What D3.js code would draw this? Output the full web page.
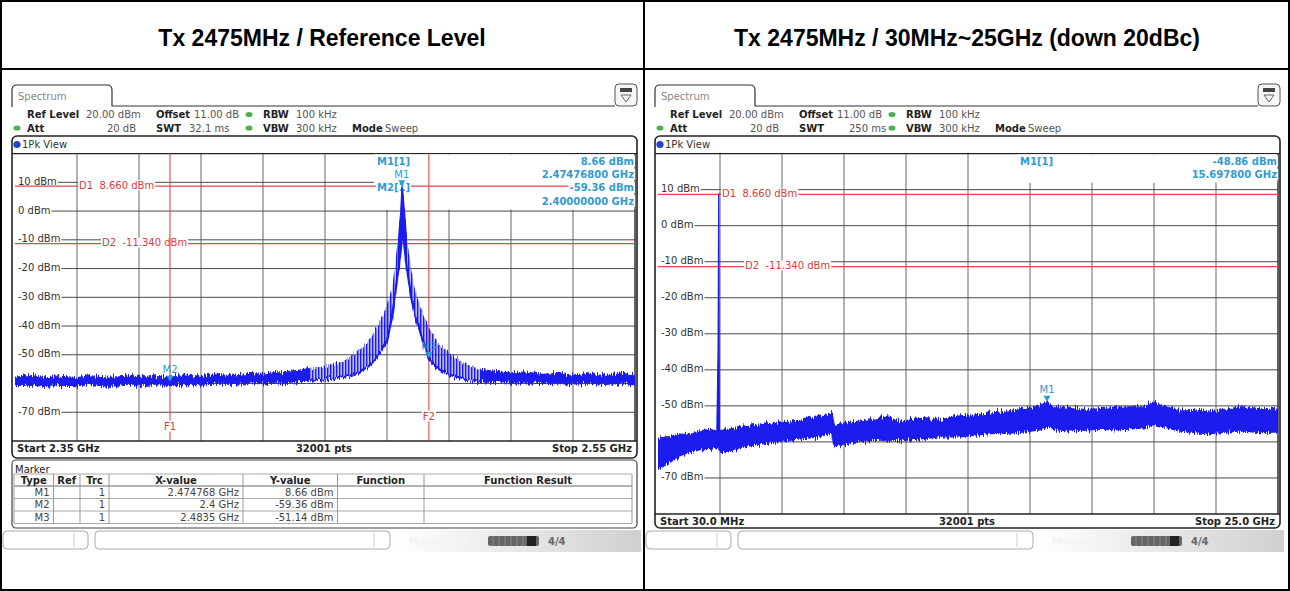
<!DOCTYPE html>
<html>
<head>
<meta charset="utf-8">
<script src="https://cdn.jsdelivr.net/npm/d3@7"></script>
<style>
  body { margin: 0; background: #fff; }
  svg text { font-family: "DejaVu Sans", Verdana, sans-serif; font-size: 10px; white-space: pre; }
  svg text.title { font-family: "Liberation Sans", Arial, sans-serif; font-weight: bold; font-size: 23px; }
</style>
</head>
<body>
<svg id="chart" width="1290" height="591"></svg>
<script>
// two R&S spectrum screenshots
const TITLES = ["Tx 2475MHz / Reference Level", "Tx 2475MHz / 30MHz~25GHz (down 20dBc)"];

const REF_LEVEL = 20;      // dBm at top of grid
const BOTTOM_LEVEL = -80;  // dBm at bottom of grid
const Y_TICKS = [10, 0, -10, -20, -30, -40, -50, -60, -70];
const D_VALUES = [8.66, -11.34];
const D_LABELS = ["D1  8.660 dBm", "D2  -11.340 dBm"];

// left screenshot: 2.35 - 2.55 GHz
const L_HEADER = [["Ref Level", "20.00 dBm"], ["Offset", "11.00 dB"], ["RBW", "100 kHz"],
  ["Att", "20 dB"], ["SWT", "32.1 ms"], ["VBW", "300 kHz"], ["Mode", "Sweep"]];
const L_RANGE = [2.35, 2.55];
const L_FOOTER = ["Start 2.35 GHz", "32001 pts", "Stop 2.55 GHz"];
const L_FREQ = [2.350, 2.355, 2.360, 2.365, 2.370, 2.375, 2.380, 2.385, 2.390, 2.395, 2.400,
  2.405, 2.410, 2.415, 2.420, 2.425, 2.430, 2.435, 2.440, 2.445, 2.450,
  2.455, 2.458, 2.461, 2.464, 2.466, 2.468, 2.470,
  2.4715, 2.4725, 2.4732, 2.4738, 2.4744, 2.4748, 2.4752, 2.4758, 2.4764, 2.4770, 2.4778,
  2.479, 2.481, 2.4835, 2.486, 2.489, 2.492, 2.496, 2.500,
  2.505, 2.510, 2.515, 2.520, 2.525, 2.530, 2.535, 2.540, 2.545, 2.550];
const L_HI = [-57.8, -57.2, -58.0, -57.5, -57.9, -57.3, -57.8, -57.6, -57.1, -57.7, -57.4,
  -57.0, -57.5, -56.9, -57.2, -56.5, -56.8, -56.0, -55.6, -54.8, -54.0,
  -52.5, -51.0, -48.5, -45.5, -42.0, -38.0, -33.0,
  -27.0, -20.0, -13.0, -8.0, 0.0, 8.66, 6.0, -2.0, -10.0, -14.0, -20.0,
  -27.0, -34.0, -40.5, -45.0, -48.5, -51.0, -53.5, -55.0,
  -55.8, -56.3, -56.0, -56.8, -56.5, -57.0, -56.6, -57.2, -56.4, -57.0];
const L_LO = [-60.6, -60.3, -60.8, -60.4, -60.6, -60.2, -60.7, -60.5, -60.3, -60.4, -60.2,
  -60.1, -60.3, -60.0, -60.1, -59.8, -59.9, -59.6, -59.3, -59.0, -58.6,
  -58.0, -57.3, -56.0, -54.0, -52.0, -49.0, -45.0,
  -38.0, -30.0, -24.0, -20.0, -14.0, -6.0, -8.0, -14.0, -20.0, -24.0, -30.0,
  -36.0, -43.0, -51.5, -54.5, -56.5, -57.5, -58.5, -59.2,
  -59.4, -59.6, -59.5, -59.8, -59.9, -60.0, -59.8, -60.1, -59.9, -60.2];
// stretches of the trace that look like a comb of lines instead of a solid band
const L_COMB = [[2.445, 2.4735], [2.4765, 2.500]];
const L_MARKERS = [["M1", 2.474768, 8.66], ["M2", 2.4, -59.36], ["M3", 2.4835, -51.14]];
const L_FLINES = [["F1", 2.4], ["F2", 2.4835]];
const L_INFO = [["M1[1]", "8.66 dBm", "2.47476800 GHz"], ["M2[1]", "-59.36 dBm", "2.40000000 GHz"]];

const TABLE_COLS = ["Type", "Ref", "Trc", "X-value", "Y-value", "Function", "Function Result"];
const TABLE_ROWS = [
  ["M1", "", "1", "2.474768 GHz", "8.66 dBm", "", ""],
  ["M2", "", "1", "2.4 GHz", "-59.36 dBm", "", ""],
  ["M3", "", "1", "2.4835 GHz", "-51.14 dBm", "", ""],
];

// right screenshot: 30 MHz - 25 GHz
const R_HEADER = [["Ref Level", "20.00 dBm"], ["Offset", "11.00 dB"], ["RBW", "100 kHz"],
  ["Att", "20 dB"], ["SWT", "250 ms"], ["VBW", "300 kHz"], ["Mode", "Sweep"]];
const R_RANGE = [0.03, 25.0];
const R_FOOTER = ["Start 30.0 MHz", "32001 pts", "Stop 25.0 GHz"];
const R_FREQ = [0.03, 0.5, 0.9, 1.3, 1.7, 2.1, 2.40, 2.45, 2.475, 2.50, 2.6,
  3.3, 4.1, 4.9, 5.75, 6.5, 6.95, 7.05, 7.12,
  7.8, 8.6, 9.2, 9.8, 10.6, 11.4, 12.2, 12.8, 13.4, 14.0, 14.6,
  15.1, 15.4, 15.7, 16.0, 16.6, 17.2, 17.8, 18.4, 19.0, 19.6,
  20.0, 20.3, 21.0, 21.6, 22.2, 22.8, 23.5, 24.3, 25.0];
const R_HI = [-59.0, -58.5, -57.8, -58.0, -57.0, -56.5, -57.0, -35.0, 8.66, -56.5, -56.8,
  -56.0, -55.3, -54.5, -54.0, -53.0, -52.3, -51.8, -55.5,
  -54.5, -53.9, -53.2, -54.2, -53.5, -53.8, -52.8, -52.5, -52.0, -51.6, -50.8,
  -50.6, -50.0, -48.86, -50.3, -50.4, -51.0, -50.8, -50.5, -50.3, -50.2,
  -48.9, -50.0, -51.2, -51.0, -51.7, -51.0, -50.3, -50.8, -50.6];
const R_LO = [-67.5, -65.5, -64.0, -63.0, -62.0, -62.0, -61.5, -61.0, -60.0, -62.5, -62.8,
  -61.5, -60.5, -59.8, -59.0, -58.5, -57.5, -57.5, -61.0,
  -60.0, -59.5, -59.3, -59.5, -59.0, -58.5, -58.5, -58.0, -57.6, -57.5, -57.2,
  -56.8, -56.5, -55.8, -56.5, -56.8, -56.6, -56.3, -56.5, -56.3, -56.0,
  -55.0, -55.5, -56.8, -57.2, -57.6, -57.2, -56.8, -57.3, -57.1];
const R_MARKERS = [["M1", 15.6978, -48.86]];
const R_INFO = [["M1[1]", "-48.86 dBm", "15.697800 GHz"]];

// ---- drawing ----
const TRACE = "#1a1aee";
const RED = "#e04848";
const MK = "#2f9bd3";

const svg = d3.select("#chart");
const defs = svg.append("defs");

const pat = defs.append("pattern").attr("id", "comb")
  .attr("patternUnits", "userSpaceOnUse").attr("width", 3).attr("height", 8);
pat.append("rect").attr("width", 3).attr("height", 8).attr("fill", "rgba(70,70,235,0.35)");
pat.append("rect").attr("width", 1.4).attr("height", 8).attr("fill", TRACE);

// vertical jitter so the straight envelope segments read like a noisy trace
const jag = defs.append("filter").attr("id", "jag").attr("filterUnits", "userSpaceOnUse")
  .attr("x", 0).attr("y", 0).attr("width", 660).attr("height", 591);
jag.append("feTurbulence").attr("type", "fractalNoise").attr("baseFrequency", "0.9 0.03")
  .attr("numOctaves", 2).attr("seed", 4).attr("result", "t");
jag.append("feColorMatrix").attr("in", "t").attr("type", "matrix")
  .attr("values", "0 0 0 0 0.5  0 1 0 0 0  0 0 0 0 0  0 0 0 0 1").attr("result", "m");
jag.append("feDisplacementMap").attr("in", "SourceGraphic").attr("in2", "m")
  .attr("scale", 10).attr("xChannelSelector", "R").attr("yChannelSelector", "G");

const grad = defs.append("linearGradient").attr("id", "status");
grad.append("stop").attr("offset", "0%").attr("stop-color", "#ffffff");
grad.append("stop").attr("offset", "100%").attr("stop-color", "#d0d0d0");

// outer table
svg.append("rect").attr("x", 1).attr("y", 1).attr("width", 1288).attr("height", 589)
  .attr("fill", "none").attr("stroke", "#000").attr("stroke-width", 2);
svg.append("line").attr("x1", 0).attr("x2", 1290).attr("y1", 69).attr("y2", 69)
  .attr("stroke", "#000").attr("stroke-width", 2);
svg.append("line").attr("x1", 644).attr("x2", 644).attr("y1", 0).attr("y2", 591)
  .attr("stroke", "#000").attr("stroke-width", 2);
TITLES.forEach((t, i) => {
  svg.append("text").attr("class", "title").attr("x", 322 + i * 645).attr("y", 38)
    .attr("text-anchor", "middle").attr("dominant-baseline", "central").text(t);
});

function textBg(g, x, y, str, anchor, fill, opts = {}) {
  const bg = g.append("rect").attr("fill", "#fff");
  const t = g.append("text").attr("x", x).attr("y", y).attr("text-anchor", anchor || "start")
    .attr("dominant-baseline", "central").attr("fill", fill).text(str);
  if (opts.bold) t.attr("font-weight", "bold");
  const b = t.node().getBBox();
  const pad = opts.pad == null ? 1 : opts.pad;
  const x0 = opts.from != null ? opts.from : b.x - pad;
  bg.attr("x", x0).attr("y", y - (opts.h || 8) / 2)
    .attr("width", b.x + b.width + pad - x0).attr("height", opts.h || 8);
  return t;
}

function drawPanel(ox, cfg) {
  const g = svg.append("g").attr("transform", `translate(${ox},0)`);
  const PL = 15, PR = 635, PT = 153.6, PB = cfg.plotBottom;

  // tab + icon
  g.append("path").attr("d", "M12,107 V90 Q12,85 17,85 H107 Q112,85 112,90 V106 H615")
    .attr("fill", "none").attr("stroke", "#333").attr("stroke-width", 1.2);
  g.append("text").attr("x", 18).attr("y", 96).attr("dominant-baseline", "central")
    .attr("font-size", 13).attr("fill", "#888").text("Spectrum");
  g.append("rect").attr("x", 615).attr("y", 84).attr("width", 22).attr("height", 22).attr("rx", 4)
    .attr("fill", "#f6f6f6").attr("stroke", "#555");
  g.append("rect").attr("x", 620).attr("y", 88).attr("width", 12).attr("height", 4).attr("fill", "#444");
  g.append("path").attr("d", "M621,95 H631 L626,102 Z").attr("fill", "none").attr("stroke", "#666");

  // setting lines
  const hp = [[27, 86, 0, "start", null], [156, 194, 0, "start", null], [263, 296, 0, "start", 249],
    [27, 136, 1, "end", 17], [156, cfg.swtX, 1, "start", null], [263, 296, 1, "start", 249],
    [352, 385, 1, "start", null]];
  cfg.header.forEach(([lab, val], i) => {
    const [lx, vx, row, anc, dot] = hp[i];
    const yy = 114.5 + row * 13.5;
    g.append("text").attr("x", lx).attr("y", yy).attr("dominant-baseline", "central")
      .attr("font-weight", "bold").attr("fill", "#222").text(lab);
    g.append("text").attr("x", vx).attr("y", yy).attr("text-anchor", anc)
      .attr("dominant-baseline", "central").attr("fill", "#555").text(val);
    if (dot) g.append("ellipse").attr("cx", dot).attr("cy", yy).attr("rx", 3.5).attr("ry", 2.6)
      .attr("fill", "#4caf50");
  });

  // frame
  g.append("rect").attr("x", 12).attr("y", 136).attr("width", 625).attr("height", cfg.frameBottom - 136)
    .attr("rx", 5).attr("fill", "#fff").attr("stroke", "#222").attr("stroke-width", 1.6);
  g.append("circle").attr("cx", 17).attr("cy", 144.5).attr("r", 3.6).attr("fill", "#2244cc");
  g.append("text").attr("x", 22).attr("y", 144.5).attr("dominant-baseline", "central")
    .attr("fill", "#333").text("1Pk View");

  const x = d3.scaleLinear().domain(cfg.range).range([PL, PR]);
  const y = d3.scaleLinear().domain([REF_LEVEL, BOTTOM_LEVEL]).range([PT, PB]);

  // grid
  const grid = g.append("g").attr("stroke", "#4a4a4a").attr("stroke-width", 1);
  const span = cfg.range[1] - cfg.range[0];
  const vx = d3.range(1, 10).map((i) => cfg.range[0] + (i * span) / 10);
  grid.selectAll(".gv").data(vx).join("line").attr("class", "gv")
    .attr("x1", (d) => x(d)).attr("x2", (d) => x(d)).attr("y1", PT).attr("y2", PB)
    .attr("stroke", "#666");
  grid.selectAll(".gh").data(Y_TICKS).join("line").attr("class", "gh")
    .attr("x1", PL).attr("x2", PR).attr("y1", (d) => y(d)).attr("y2", (d) => y(d));
  g.append("line").attr("x1", 12).attr("x2", 637).attr("y1", PT).attr("y2", PT)
    .attr("stroke", "#222").attr("stroke-width", 1.4);
  g.append("line").attr("x1", 12).attr("x2", 637).attr("y1", PB).attr("y2", PB)
    .attr("stroke", "#222").attr("stroke-width", 1.4);
  g.append("line").attr("x1", PR).attr("x2", PR).attr("y1", PT).attr("y2", PB)
    .attr("stroke", "#222").attr("stroke-width", 1.4);

  // marker readout box hides the grid behind it
  const infoLines = cfg.info.length * 2;
  g.append("rect").attr("x", 374).attr("y", PT + 0.8).attr("width", PR - 374.7)
    .attr("height", infoLines * 13.4 + 1.5).attr("fill", "#fff");

  // y labels
  Y_TICKS.forEach((t) => {
    textBg(g, 18, y(t) - 1, `${t} dBm`, "start", "#333", { h: 9, from: 13.2 });
  });

  // display lines
  D_VALUES.forEach((v, i) => {
    g.append("line").attr("x1", PL).attr("x2", PR).attr("y1", y(v)).attr("y2", y(v))
      .attr("stroke", RED).attr("stroke-width", 1.2);
    textBg(g, [79, 102][i], y(v) - 1, D_LABELS[i], "start", "#d83c3c", { h: 10 });
  });
  (cfg.flines || []).forEach(([name, f]) => {
    g.append("line").attr("x1", x(f)).attr("x2", x(f)).attr("y1", PT).attr("y2", PB)
      .attr("stroke", RED).attr("stroke-width", 1.1);
    textBg(g, x(f), name === "F1" ? 426 : 416, name, "middle", "#d83c3c", { h: 11 });
  });

  // readout text
  cfg.info.forEach(([name, val, freq], i) => {
    const y0 = 161 + i * 26.7;
    textBg(g, 377, y0, name, "start", MK, { bold: true, h: 11 });
    textBg(g, 634, y0, val, "end", MK, { bold: true, h: 11 });
    textBg(g, 634, y0 + 13.3, freq, "end", MK, { bold: true, h: 11 });
  });

  // trace
  const pts = cfg.freq.map((f, i) => ({ f, hi: cfg.hi[i], lo: cfg.lo[i] }));
  const cid = "clip" + ox;
  defs.append("clipPath").attr("id", cid).append("rect")
    .attr("x", PL).attr("y", PT).attr("width", PR - PL).attr("height", PB - PT);
  const tg = g.append("g").attr("clip-path", `url(#${cid})`);
  const area = d3.area().x((d) => x(d.f)).y0((d) => y(d.lo)).y1((d) => y(d.hi));
  const low = d3.line().x((d) => x(d.f)).y((d) => y(d.lo));

  if (cfg.comb) {
    tg.append("path").attr("d", area(pts)).attr("fill", "url(#comb)").attr("filter", "url(#jag)");
    // solid where there is no comb
    const sid = "solid" + ox;
    const edges = [cfg.range[0], ...cfg.comb.flat(), cfg.range[1]];
    const sc = defs.append("clipPath").attr("id", sid);
    for (let i = 0; i < edges.length; i += 2) {
      sc.append("rect").attr("x", x(edges[i])).attr("y", 0)
        .attr("width", x(edges[i + 1]) - x(edges[i])).attr("height", 591);
    }
    tg.append("g").attr("clip-path", `url(#${sid})`).append("path").attr("d", area(pts))
      .attr("fill", TRACE).attr("stroke", TRACE).attr("stroke-width", 1).attr("filter", "url(#jag)");
  } else {
    tg.append("path").attr("d", area(pts)).attr("fill", TRACE).attr("stroke", TRACE)
      .attr("stroke-width", 1.2).attr("filter", "url(#jag)");
  }
  tg.append("path").attr("d", low(pts)).attr("fill", "none").attr("stroke", TRACE)
    .attr("stroke-width", 2.2).attr("filter", "url(#jag)");

  // markers
  cfg.markers.forEach(([name, f, v]) => {
    const mx = x(f), my = y(v);
    g.append("path").attr("d", `M${mx - 3.5},${my - 6} H${mx + 3.5} L${mx},${my} Z`).attr("fill", MK);
    g.append("text").attr("x", mx).attr("y", my - 12).attr("text-anchor", "middle")
      .attr("dominant-baseline", "central").attr("fill", MK).text(name);
  });

  // footer
  const fy = PB + 7.5;
  g.append("text").attr("x", 17).attr("y", fy).attr("dominant-baseline", "central")
    .attr("font-weight", "bold").attr("fill", "#222").text(cfg.footer[0]);
  g.append("text").attr("x", 324).attr("y", fy).attr("text-anchor", "middle")
    .attr("dominant-baseline", "central").attr("font-weight", "bold").attr("fill", "#222").text(cfg.footer[1]);
  g.append("text").attr("x", 632).attr("y", fy).attr("text-anchor", "end")
    .attr("dominant-baseline", "central").attr("font-weight", "bold").attr("fill", "#222").text(cfg.footer[2]);

  // marker table
  if (cfg.table) {
    g.append("rect").attr("x", 12).attr("y", 460).attr("width", 625).attr("height", 68).attr("rx", 4)
      .attr("fill", "#fff").attr("stroke", "#444").attr("stroke-width", 1.2);
    g.append("text").attr("x", 15).attr("y", 469.5).attr("dominant-baseline", "central")
      .attr("fill", "#222").text("Marker");
    const cx = [14, 53.5, 80, 109, 243, 337.5, 424, 632];
    const ry = [474, 486, 498.5, 511, 523.5];
    const tb = g.append("g");
    ry.forEach((yy, i) => tb.append("line").attr("x1", cx[0]).attr("x2", cx[7]).attr("y1", yy).attr("y2", yy)
      .attr("stroke", i === 1 ? "#666" : "#aaa"));
    cx.forEach((xx) => tb.append("line").attr("x1", xx).attr("x2", xx).attr("y1", ry[0]).attr("y2", ry[4])
      .attr("stroke", "#999"));
    TABLE_COLS.forEach((c, i) => {
      tb.append("text").attr("x", (cx[i] + cx[i + 1]) / 2).attr("y", 480.5).attr("text-anchor", "middle")
        .attr("dominant-baseline", "central").attr("font-weight", "bold").attr("fill", "#222").text(c);
    });
    TABLE_ROWS.forEach((r, j) => {
      r.forEach((c, i) => {
        if (!c) return;
        tb.append("text").attr("x", cx[i + 1] - 4).attr("y", (ry[j + 1] + ry[j + 2]) / 2)
          .attr("text-anchor", "end").attr("dominant-baseline", "central").attr("fill", "#444").text(c);
      });
    });
  }

  // status bar
  const sb = g.append("g");
  sb.append("rect").attr("x", 395).attr("y", 530).attr("width", 246).attr("height", 22).attr("fill", "url(#status)");
  sb.append("rect").attr("x", 3).attr("y", 531).attr("width", 85).attr("height", 18).attr("rx", 4)
    .attr("fill", "#fff").attr("stroke", "#aaa");
  sb.append("line").attr("x1", 74).attr("x2", 74).attr("y1", 533).attr("y2", 547).attr("stroke", "#ccc");
  sb.append("rect").attr("x", 95).attr("y", 531).attr("width", 295).attr("height", 18).attr("rx", 4)
    .attr("fill", "#fff").attr("stroke", "#aaa");
  sb.append("line").attr("x1", 374).attr("x2", 374).attr("y1", 533).attr("y2", 547).attr("stroke", "#ccc");
  sb.append("text").attr("x", 409).attr("y", 541).attr("dominant-baseline", "central")
    .attr("fill", "#f4f4f4").attr("font-weight", "bold").text("Measuring");
  sb.append("rect").attr("x", 488).attr("y", 536).attr("width", 51).attr("height", 10).attr("rx", 2).attr("fill", "#666");
  sb.append("rect").attr("x", 527).attr("y", 536).attr("width", 9).attr("height", 10).attr("fill", "#222");
  d3.range(6).forEach((i) => sb.append("line").attr("x1", 493 + i * 6).attr("x2", 493 + i * 6)
    .attr("y1", 536).attr("y2", 546).attr("stroke", "#888"));
  sb.append("text").attr("x", 548).attr("y", 541).attr("dominant-baseline", "central")
    .attr("font-size", 9).attr("font-weight", "bold").attr("fill", "#666").text("4/4");
}

drawPanel(0, {
  header: L_HEADER, swtX: 189, range: L_RANGE, footer: L_FOOTER, plotBottom: 441, frameBottom: 458,
  freq: L_FREQ, hi: L_HI, lo: L_LO, comb: L_COMB, markers: L_MARKERS, flines: L_FLINES,
  info: L_INFO, table: true,
});
drawPanel(643, {
  header: R_HEADER, swtX: 206, range: R_RANGE, footer: R_FOOTER, plotBottom: 514, frameBottom: 528,
  freq: R_FREQ, hi: R_HI, lo: R_LO, markers: R_MARKERS, info: R_INFO,
});
</script>
</body>
</html>
